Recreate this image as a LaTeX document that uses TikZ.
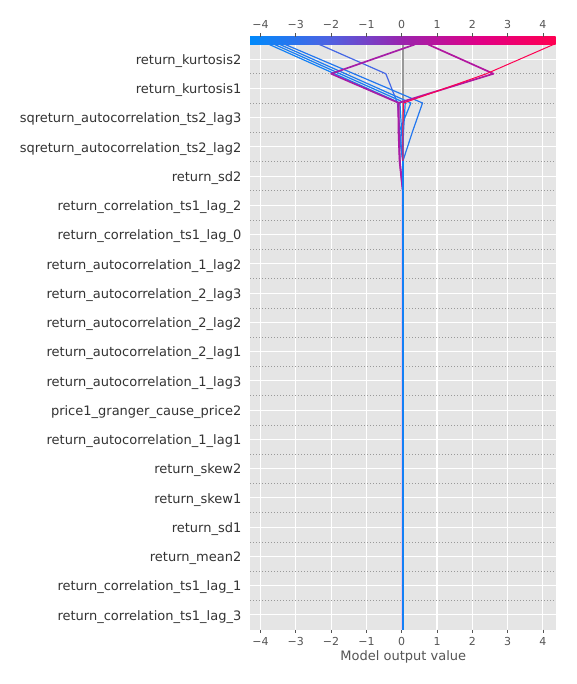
\documentclass[tikz,border=0pt]{standalone}
\usepackage{fontspec}
\setmainfont{DejaVu Sans}
\definecolor{bgc}{HTML}{E5E5E5}
\definecolor{dotc}{HTML}{999999}
\definecolor{basec}{HTML}{999999}
\definecolor{flabc}{HTML}{333333}
\definecolor{tickc}{HTML}{555555}
\definecolor{cbA}{RGB}{0,138,251}
\definecolor{cbB}{RGB}{75,99,227}
\definecolor{cbC}{RGB}{155,35,173}
\definecolor{cbD}{RGB}{224,0,134}
\definecolor{cbE}{RGB}{255,0,81}
\definecolor{lb1}{RGB}{19,128,245}
\definecolor{lb2}{RGB}{24,125,243}
\definecolor{lb3}{RGB}{29,122,241}
\definecolor{lb4}{RGB}{35,119,239}
\definecolor{lb5}{RGB}{68,103,229}
\definecolor{lm1}{RGB}{178,23,160}
\definecolor{lm2}{RGB}{166,30,167}
\definecolor{lr}{RGB}{254,1,82}
\pgfdeclarehorizontalshading{shapcb}{100bp}{color(0bp)=(cbA); color(25bp)=(cbA); color(37.5bp)=(cbB); color(50bp)=(cbC); color(62.5bp)=(cbD); color(75bp)=(cbE); color(100bp)=(cbE)}
\tikzset{
 flab/.style={text=flabc, font=\fontsize{13}{15}\selectfont, inner sep=0pt},
 tlab/.style={text=tickc, font=\fontsize{11}{13}\selectfont, inner sep=0pt},
 xlab/.style={text=tickc, font=\fontsize{13}{15}\selectfont, inner sep=0pt},
 gridw/.style={white, line width=1.1pt},
 dotline/.style={dotc, line width=0.5pt, dash pattern=on 0.5pt off 2.5pt},
 tickmark/.style={tickc, line width=0.8pt},
 bline/.style={line width=1.2pt, line join=round},
 mline/.style={line width=1.7pt, line join=round},
 rline/.style={line width=1pt, line join=round},
}
\begin{document}
\begin{tikzpicture}[x=1pt,y=-1pt]
\useasboundingbox[fill=white] (0,0) rectangle (576,684);
\begin{scope}[shift={(401.7pt,-629.5pt)}, x=35.3pt, y=29.25pt]
  % plot background and grid
  \fill[bgc] (-4.297,0) rectangle (4.363,20);
  \foreach \v in {-4,...,4} \draw[gridw] (\v,0) -- (\v,20);
  \foreach \i in {0,...,19} \draw[gridw] (-4.297,\i+0.5) -- (4.363,\i+0.5);
  \foreach \i in {1,...,19} \draw[dotline] (-4.297,\i) -- (4.363,\i);
  \draw[basec, line width=1.6pt] (0.03,0) -- (0.03,20);
  % colour bar
  \shade[shading=shapcb] (-4.297,20) rectangle (4.363,20.267);
  % tick marks
  \foreach \v in {-4,...,4} {
    \draw[tickmark] (\v,0) -- (\v,-0.13);
    \draw[tickmark] (\v,20.267) -- (\v,20.387);
  }
  % decision lines
  \draw[bline, lb5] (0.03,0) -- (0.03,16) -- (-0.05,17) -- (-0.12,18) -- (-0.45,19) -- (-2.33,20);
  \draw[bline, lb4] (0.03,0) -- (0.03,16) -- (0.3,17) -- (0.59,18) -- (-3.3,20);
  \draw[bline, lb3] (0.03,0) -- (0.03,16) -- (-0.08,17) -- (0.26,18) -- (-3.45,20);
  \draw[bline, lb2] (0.03,0) -- (0.03,16) -- (0.05,17) -- (0.1,18) -- (-3.6,20);
  \draw[bline, lb1] (0.03,16) -- (0.0,17) -- (-0.05,18) -- (-3.75,20);
  \draw[mline, lm1] (0.03,0) -- (0.03,15) -- (-0.06,16) -- (-0.09,17) -- (-0.1,18) -- (2.6,19) -- (0.75,20);
  \draw[mline, lm2] (0.03,0) -- (0.03,15) -- (-0.05,16) -- (-0.08,17) -- (-0.08,18) -- (-2.0,19) -- (0.37,20);
  \draw[rline, lr] (0.03,0) -- (0.03,17) -- (0.05,18) -- (2.4,19) -- (4.3,20);
  \draw[line width=1.8pt, lb1] (0.03,0) -- (0.03,16);
\end{scope}
% feature labels
\foreach \i/\t in {19/return\_kurtosis2, 18/return\_kurtosis1, 17/sqreturn\_autocorrelation\_ts2\_lag3, 16/sqreturn\_autocorrelation\_ts2\_lag2, 15/return\_sd2, 14/return\_correlation\_ts1\_lag\_2, 13/return\_correlation\_ts1\_lag\_0, 12/return\_autocorrelation\_1\_lag2, 11/return\_autocorrelation\_2\_lag3, 10/return\_autocorrelation\_2\_lag2, 9/return\_autocorrelation\_2\_lag1, 8/return\_autocorrelation\_1\_lag3, 7/price1\_granger\_cause\_price2, 6/return\_autocorrelation\_1\_lag1, 5/return\_skew2, 4/return\_skew1, 3/return\_sd1, 2/return\_mean2, 1/return\_correlation\_ts1\_lag\_1, 0/return\_correlation\_ts1\_lag\_3}
  \node[flab, anchor=base east] (f\i) at (241.5, {629.5-29.25*(\i+0.5)+5.3}) {\t};
% tick labels
\foreach \v/\s/\n in {-4/−4/a, -3/−3/b, -2/−2/c, -1/−1/d, 0/0/e, 1/1/f, 2/2/g, 3/3/h, 4/4/i} {
  \node[tlab, anchor=base] (tb\n) at ({401.7+35.3*\v}, 645.7) {\s};
  \node[tlab, anchor=base] (tt\n) at ({401.7+35.3*\v}, 28.4) {\s};
}
\node[xlab, anchor=base] (xl) at (403.3, 660.3) {Model output value};
\end{tikzpicture}
\end{document}
